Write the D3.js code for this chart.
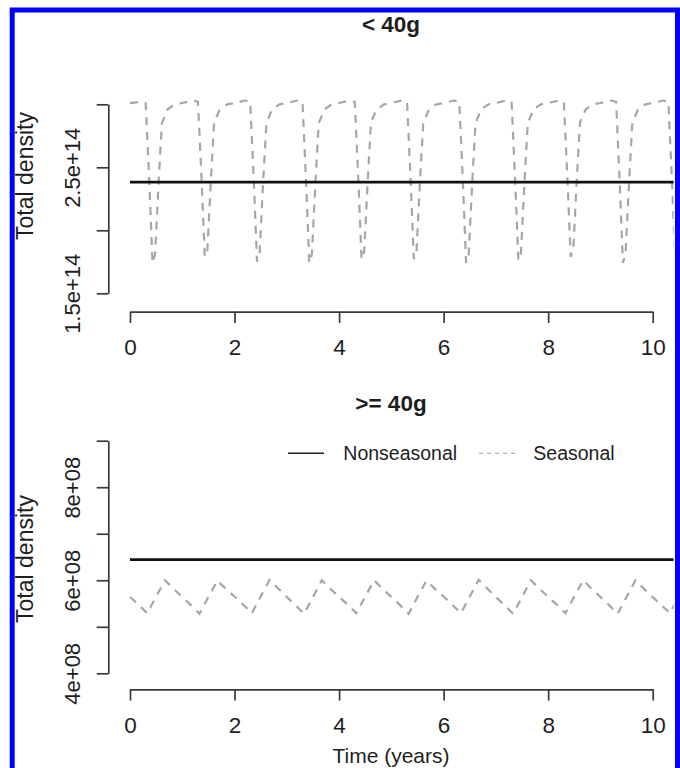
<!DOCTYPE html>
<html>
<head>
<meta charset="utf-8">
<script src="https://cdn.jsdelivr.net/npm/d3@7"></script>
<style>
  body { margin: 0; background: #fff; }
  svg { display: block; }
  text { font-family: "Liberation Sans", Arial, Helvetica, sans-serif; fill: #1e1e1e; }
</style>
</head>
<body>
<div id="chart"></div>
<script>
// x ticks shared by both panels
const timeTicks = [0, 2, 4, 6, 8, 10];

// < 40g panel
const smallTicks = [1.5e14, 2e14, 2.5e14, 3e14];
const smallLabels = [1.5e14, 2.5e14];
const smallNonseasonal = [[0, 2.383e14], [10.6, 2.383e14]];
const smallSeasonal = [
  [0.00, 3.01e14], [0.20, 3.02e14], [0.30, 3.01e14], [0.37, 2.38e14], [0.43, 1.74e14], [0.48, 1.81e14], [0.55, 2.40e14], [0.61, 2.85e14], [0.72, 2.96e14], [0.86, 3.00e14],
  [1.00, 3.01e14], [1.20, 3.03e14], [1.30, 3.02e14], [1.37, 2.40e14], [1.43, 1.79e14], [1.48, 1.84e14], [1.55, 2.42e14], [1.61, 2.86e14], [1.72, 2.96e14], [1.86, 3.00e14],
  [2.00, 3.01e14], [2.20, 3.03e14], [2.30, 3.02e14], [2.37, 2.38e14], [2.43, 1.75e14], [2.48, 1.82e14], [2.55, 2.41e14], [2.61, 2.85e14], [2.72, 2.96e14], [2.86, 3.00e14],
  [3.00, 3.01e14], [3.20, 3.03e14], [3.30, 3.02e14], [3.37, 2.37e14], [3.43, 1.74e14], [3.48, 1.81e14], [3.55, 2.40e14], [3.61, 2.85e14], [3.72, 2.96e14], [3.86, 3.00e14],
  [4.00, 3.01e14], [4.20, 3.03e14], [4.30, 3.02e14], [4.37, 2.39e14], [4.43, 1.77e14], [4.48, 1.83e14], [4.55, 2.41e14], [4.61, 2.86e14], [4.72, 2.96e14], [4.86, 3.00e14],
  [5.00, 3.01e14], [5.20, 3.03e14], [5.30, 3.02e14], [5.37, 2.39e14], [5.43, 1.77e14], [5.48, 1.82e14], [5.55, 2.41e14], [5.61, 2.85e14], [5.72, 2.96e14], [5.86, 3.00e14],
  [6.00, 3.01e14], [6.20, 3.03e14], [6.30, 3.02e14], [6.37, 2.37e14], [6.43, 1.74e14], [6.48, 1.81e14], [6.55, 2.40e14], [6.61, 2.85e14], [6.72, 2.96e14], [6.86, 3.00e14],
  [7.00, 3.01e14], [7.20, 3.03e14], [7.30, 3.02e14], [7.37, 2.38e14], [7.43, 1.76e14], [7.48, 1.82e14], [7.55, 2.41e14], [7.61, 2.85e14], [7.72, 2.96e14], [7.86, 3.00e14],
  [8.00, 3.01e14], [8.20, 3.03e14], [8.30, 3.02e14], [8.37, 2.40e14], [8.43, 1.79e14], [8.48, 1.84e14], [8.55, 2.42e14], [8.61, 2.86e14], [8.72, 2.96e14], [8.86, 3.00e14],
  [9.00, 3.01e14], [9.20, 3.03e14], [9.30, 3.02e14], [9.37, 2.37e14], [9.43, 1.74e14], [9.48, 1.81e14], [9.55, 2.40e14], [9.61, 2.85e14], [9.72, 2.96e14], [9.86, 3.00e14],
  [10.00, 3.01e14], [10.20, 3.03e14], [10.30, 3.02e14], [10.37, 2.38e14], [10.43, 1.75e14],
];

// >= 40g panel
const largeTicks = [4e8, 5e8, 6e8, 7e8, 8e8, 9e8];
const largeLabels = [4e8, 6e8, 8e8];
const largeNonseasonal = [[0, 6.444e8], [10.6, 6.444e8]];
const largeSeasonal = [
  [0.00, 5.64e8], [0.17, 5.47e8], [0.33, 5.29e8], [0.50, 5.65e8], [0.67, 6.00e8], [0.83, 5.82e8],
  [1.00, 5.64e8], [1.17, 5.46e8], [1.33, 5.28e8], [1.50, 5.64e8], [1.67, 5.99e8], [1.83, 5.82e8],
  [2.00, 5.65e8], [2.17, 5.47e8], [2.33, 5.29e8], [2.50, 5.65e8], [2.67, 6.01e8], [2.83, 5.83e8],
  [3.00, 5.64e8], [3.17, 5.46e8], [3.33, 5.28e8], [3.50, 5.64e8], [3.67, 6.00e8], [3.83, 5.82e8],
  [4.00, 5.64e8], [4.17, 5.47e8], [4.33, 5.29e8], [4.50, 5.65e8], [4.67, 6.00e8], [4.83, 5.82e8],
  [5.00, 5.64e8], [5.17, 5.46e8], [5.33, 5.28e8], [5.50, 5.64e8], [5.67, 5.99e8], [5.83, 5.82e8],
  [6.00, 5.65e8], [6.17, 5.47e8], [6.33, 5.29e8], [6.50, 5.65e8], [6.67, 6.01e8], [6.83, 5.83e8],
  [7.00, 5.64e8], [7.17, 5.46e8], [7.33, 5.28e8], [7.50, 5.64e8], [7.67, 6.00e8], [7.83, 5.82e8],
  [8.00, 5.64e8], [8.17, 5.47e8], [8.33, 5.29e8], [8.50, 5.65e8], [8.67, 6.00e8], [8.83, 5.82e8],
  [9.00, 5.64e8], [9.17, 5.46e8], [9.33, 5.28e8], [9.50, 5.64e8], [9.67, 6.00e8], [9.83, 5.82e8],
  [10.00, 5.64e8], [10.17, 5.46e8], [10.33, 5.29e8], [10.50, 5.65e8],
];

const legendItems = ["Nonseasonal", "Seasonal"];

const width = 680;
const height = 768;

const svg = d3
  .select("#chart")
  .append("svg")
  .attr("width", width)
  .attr("height", height)
  .attr("viewBox", [0, 0, width, height]);

const x = d3.scaleLinear().domain([0, 10]).range([130, 652.7]);

function expo(v) {
  // R style 1.5e+14
  const [m, e] = v.toExponential().split("e");
  const exp = Math.abs(+e).toString().padStart(2, "0");
  return `${m}e${+e < 0 ? "-" : "+"}${exp}`;
}

function drawPanel(opts) {
  const g = svg.append("g");
  const y = d3.scaleLinear().domain(opts.yDomain).range(opts.yRange);

  const clipId = `clip-${opts.id}`;
  svg
    .append("defs")
    .append("clipPath")
    .attr("id", clipId)
    .append("rect")
    .attr("x", 109)
    .attr("y", opts.plotTop)
    .attr("width", 673.6 - 109)
    .attr("height", opts.axisY - opts.plotTop);

  // title
  g.append("text")
    .attr("x", 391)
    .attr("y", opts.titleY)
    .attr("text-anchor", "middle")
    .attr("font-size", 22.5)
    .attr("font-weight", "bold")
    .text(opts.title);

  // x axis
  const xAxis = g
    .append("g")
    .attr("transform", `translate(0,${opts.axisY})`)
    .call(d3.axisBottom(x).tickValues(timeTicks).tickSize(11.3).tickSizeOuter(0).tickFormat(d3.format("d")));
  xAxis.select(".domain").attr("stroke", "#3a3a3a").attr("stroke-width", 1.7);
  xAxis.selectAll(".tick line").attr("stroke", "#3a3a3a").attr("stroke-width", 1.7);
  xAxis
    .selectAll(".tick text")
    .attr("y", 43.3)
    .attr("dy", 0)
    .attr("font-size", 22.5)
    .attr("fill", "#1e1e1e")
    .attr("font-family", null);

  // y axis
  const yAxis = g
    .append("g")
    .attr("transform", "translate(108.3,0)")
    .call(
      d3
        .axisLeft(y)
        .tickValues(opts.ticks)
        .tickSize(11.6)
        .tickSizeOuter(0)
        .tickFormat((d) => (opts.labels.includes(d) ? expo(d) : ""))
    );
  yAxis.select(".domain").attr("stroke", "#3a3a3a").attr("stroke-width", 1.7);
  yAxis.selectAll(".tick line").attr("stroke", "#3a3a3a").attr("stroke-width", 1.7);
  yAxis
    .selectAll(".tick text")
    .attr("x", 0)
    .attr("dy", 0)
    .attr("text-anchor", "middle")
    .attr("transform", "translate(-28.3,0) rotate(-90)")
    .attr("font-size", 22)
    .attr("fill", "#1e1e1e")
    .attr("font-family", null);

  // y label
  g.append("text")
    .attr("transform", `translate(33,${opts.ylabY}) rotate(-90)`)
    .attr("text-anchor", "middle")
    .attr("font-size", 23)
    .text("Total density");

  const line = d3
    .line()
    .x((d) => x(d[0]))
    .y((d) => y(d[1]));

  const plot = g.append("g").attr("clip-path", `url(#${clipId})`);

  plot
    .append("path")
    .datum(opts.seasonal)
    .attr("d", line)
    .attr("fill", "none")
    .attr("stroke", "#a6a6a6")
    .attr("stroke-width", 2.2)
    .attr("stroke-dasharray", "8,7");

  plot
    .append("path")
    .datum(opts.nonseasonal)
    .attr("d", line)
    .attr("fill", "none")
    .attr("stroke", "#111")
    .attr("stroke-width", 2.7);

  return g;
}

drawPanel({
  id: "small",
  title: "< 40g",
  titleY: 32,
  yDomain: [1.5e14, 3e14],
  yRange: [293.3, 104.3],
  ticks: smallTicks,
  labels: smallLabels,
  axisY: 311.7,
  plotTop: 40,
  ylabY: 176,
  seasonal: smallSeasonal,
  nonseasonal: smallNonseasonal,
});

const bottom = drawPanel({
  id: "large",
  title: ">= 40g",
  titleY: 411,
  yDomain: [4e8, 9e8],
  yRange: [673.3, 440.7],
  ticks: largeTicks,
  labels: largeLabels,
  axisY: 689.3,
  plotTop: 428,
  ylabY: 559,
  seasonal: largeSeasonal,
  nonseasonal: largeNonseasonal,
});

// x label only under the bottom panel
bottom
  .append("text")
  .attr("x", 391)
  .attr("y", 763)
  .attr("text-anchor", "middle")
  .attr("font-size", 21)
  .text("Time (years)");

// legend, no box
const legend = bottom.append("g");
const legendLineX = [288, 479];
const legendTextX = [343.3, 533.3];
legendItems.forEach((name, i) => {
  legend
    .append("line")
    .attr("x1", legendLineX[i])
    .attr("x2", legendLineX[i] + 36)
    .attr("y1", 453.3)
    .attr("y2", 453.3)
    .attr("stroke", i === 0 ? "#222" : "#b0b0b0")
    .attr("stroke-width", i === 0 ? 1.6 : 1.3)
    .attr("stroke-dasharray", i === 0 ? null : "4,4");
  legend
    .append("text")
    .attr("x", legendTextX[i])
    .attr("y", 453.3)
    .attr("dy", "0.36em")
    .attr("font-size", 19.5)
    .text(name);
});

// blue frame, open at the bottom
svg
  .append("rect")
  .attr("x", 12.2)
  .attr("y", 10)
  .attr("width", 677.5 - 12.2)
  .attr("height", 800)
  .attr("fill", "none")
  .attr("stroke", "#0000fe")
  .attr("stroke-width", 5);
</script>
</body>
</html>
